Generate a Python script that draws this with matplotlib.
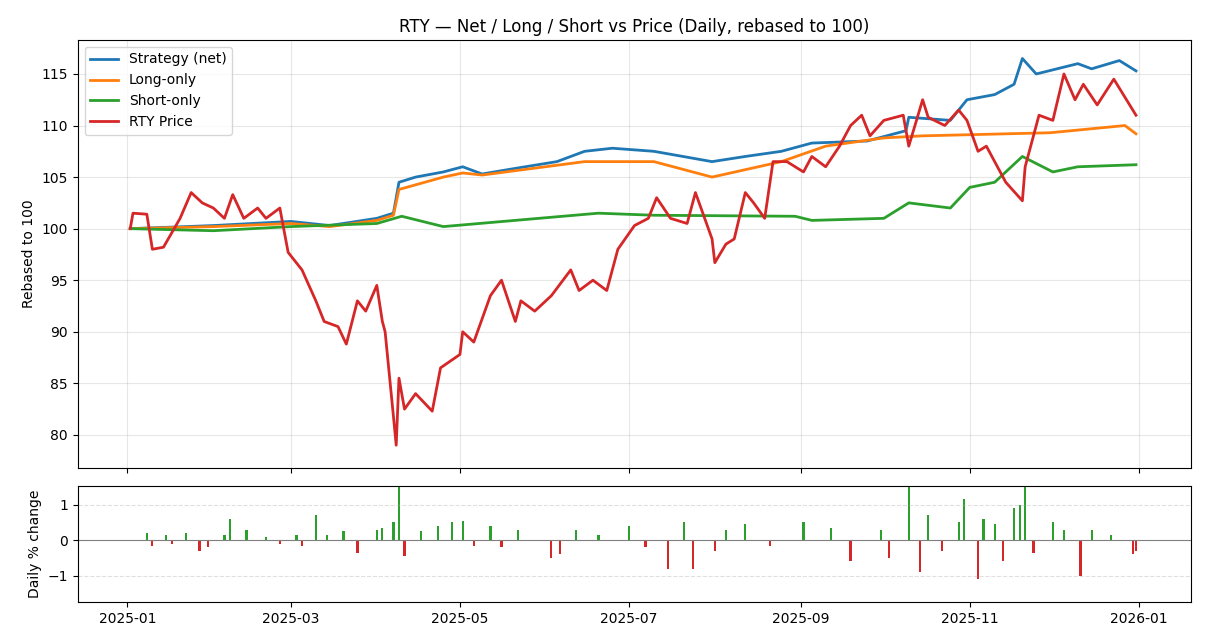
import pandas as pd
import numpy as np
import matplotlib.pyplot as plt

price_dates = ['2025-01-02','2025-01-03','2025-01-08','2025-01-10','2025-01-14','2025-01-20','2025-01-24','2025-01-28',
               '2025-02-01','2025-02-05','2025-02-08','2025-02-12','2025-02-17','2025-02-20','2025-02-25','2025-02-28',
               '2025-03-05','2025-03-10','2025-03-13','2025-03-18','2025-03-21','2025-03-25','2025-03-28','2025-04-01',
               '2025-04-03','2025-04-04','2025-04-07','2025-04-08','2025-04-09','2025-04-11','2025-04-15','2025-04-21',
               '2025-04-24','2025-05-01','2025-05-02','2025-05-06','2025-05-12','2025-05-16','2025-05-21','2025-05-23',
               '2025-05-28','2025-06-03','2025-06-10','2025-06-13','2025-06-18','2025-06-23','2025-06-27','2025-07-03',
               '2025-07-08','2025-07-11','2025-07-16','2025-07-22','2025-07-25','2025-07-31','2025-08-01','2025-08-05',
               '2025-08-08','2025-08-12','2025-08-15','2025-08-19','2025-08-22','2025-08-27','2025-09-02','2025-09-05',
               '2025-09-10','2025-09-15','2025-09-19','2025-09-23','2025-09-26','2025-10-01','2025-10-08','2025-10-10',
               '2025-10-15','2025-10-17','2025-10-23','2025-10-28','2025-10-31','2025-11-04','2025-11-07','2025-11-14',
               '2025-11-20','2025-11-21','2025-11-26','2025-12-01','2025-12-05','2025-12-09','2025-12-12','2025-12-17',
               '2025-12-23','2025-12-31']
price = [100, 101.5, 101.4, 98, 98.2, 101, 103.5, 102.5, 102, 101, 103.3, 101, 102, 101, 102, 97.7,
         96, 93, 91, 90.5, 88.8, 93, 92, 94.5, 91, 90, 81.8, 79, 85.5, 82.5, 84, 82.3,
         86.5, 87.8, 90, 89, 93.5, 95, 91, 93, 92, 93.5, 96, 94, 95, 94, 98, 100.3,
         101, 103, 101, 100.5, 103.5, 99, 96.7, 98.5, 99, 103.5, 102.5, 101, 106.5, 106.5, 105.5, 107,
         106, 108, 110, 111, 109, 110.5, 111, 108, 112.5, 110.8, 110, 111.5, 110.5, 107.5, 108, 104.5,
         102.7, 106, 111, 110.5, 115, 112.5, 114, 112, 114.5, 111]

net_dates = ['2025-01-02','2025-02-01','2025-03-01','2025-03-15','2025-04-01','2025-04-07','2025-04-09','2025-04-15',
             '2025-04-25','2025-05-02','2025-05-09','2025-05-20','2025-06-05','2025-06-15','2025-06-25','2025-07-10',
             '2025-07-31','2025-08-12','2025-08-25','2025-09-05','2025-09-25','2025-10-09','2025-10-10','2025-10-25',
             '2025-10-31','2025-11-10','2025-11-17','2025-11-20','2025-11-25','2025-12-10','2025-12-15','2025-12-25',
             '2025-12-31']
net = [100, 100.3, 100.7, 100.3, 101, 101.5, 104.5, 105, 105.5, 106, 105.3, 105.8, 106.5, 107.5, 107.8, 107.5,
       106.5, 107, 107.5, 108.3, 108.5, 109.5, 110.8, 110.5, 112.5, 113, 114, 116.5, 115, 116, 115.5, 116.3, 115.3]

long_dates = ['2025-01-02','2025-02-01','2025-03-01','2025-03-15','2025-04-01','2025-04-07','2025-04-09','2025-04-25',
              '2025-05-02','2025-05-09','2025-06-15','2025-07-10','2025-07-31','2025-08-25','2025-09-10','2025-10-01',
              '2025-10-15','2025-11-30','2025-12-27','2025-12-31']
long_only = [100, 100.2, 100.5, 100.2, 100.8, 101.3, 103.8, 105, 105.4, 105.2, 106.5, 106.5, 105, 106.5, 108, 108.8,
             109, 109.3, 110, 109.2]

short_dates = ['2025-01-02','2025-02-01','2025-03-01','2025-04-01','2025-04-10','2025-04-25','2025-06-20','2025-07-10',
               '2025-08-30','2025-09-05','2025-10-01','2025-10-10','2025-10-25','2025-11-01','2025-11-10','2025-11-20',
               '2025-12-01','2025-12-10','2025-12-31']
short_only = [100, 99.8, 100.2, 100.5, 101.2, 100.2, 101.5, 101.3, 101.2, 100.8, 101, 102.5, 102, 104, 104.5, 107,
              105.5, 106, 106.2]

bar_dates = ['2025-01-08','2025-01-10','2025-01-15','2025-01-17','2025-01-22','2025-01-27','2025-01-30','2025-02-05',
             '2025-02-07','2025-02-13','2025-02-20','2025-02-25','2025-03-03','2025-03-05','2025-03-10','2025-03-14',
             '2025-03-20','2025-03-25','2025-04-01','2025-04-03','2025-04-07','2025-04-09','2025-04-11','2025-04-17',
             '2025-04-23','2025-04-28','2025-05-02','2025-05-06','2025-05-12','2025-05-16','2025-05-22','2025-06-03',
             '2025-06-06','2025-06-12','2025-06-20','2025-07-01','2025-07-07','2025-07-15','2025-07-21','2025-07-24',
             '2025-08-01','2025-08-05','2025-08-12','2025-08-21','2025-09-02','2025-09-12','2025-09-19','2025-09-30',
             '2025-10-03','2025-10-10','2025-10-14','2025-10-17','2025-10-22','2025-10-28','2025-10-30','2025-11-04',
             '2025-11-06','2025-11-10','2025-11-13','2025-11-17','2025-11-19','2025-11-21','2025-11-24','2025-12-01',
             '2025-12-05','2025-12-11','2025-12-15','2025-12-22','2025-12-30','2025-12-31']
bar_vals = [0.2, -0.15, 0.15, -0.1, 0.2, -0.3, -0.2, 0.15, 0.6, 0.3, 0.1, -0.1, 0.15, -0.15, 0.7, 0.15,
            0.25, -0.35, 0.3, 0.35, 0.5, 1.6, -0.45, 0.25, 0.4, 0.5, 0.55, -0.15, 0.4, -0.2, 0.3, -0.5,
            -0.4, 0.3, 0.15, 0.4, -0.2, -0.8, 0.5, -0.8, -0.3, 0.3, 0.45, -0.15, 0.5, 0.35, -0.6, 0.3,
            -0.5, 1.5, -0.9, 0.7, -0.3, 0.5, 1.15, -1.1, 0.6, 0.45, -0.6, 0.9, 1.0, 1.5, -0.35, 0.5,
            0.3, -1.0, 0.3, 0.15, -0.4, -0.3]

fig = plt.figure(figsize=(12.12, 6.34), dpi=100)
ax = fig.add_axes([0.064, 0.262, 0.919, 0.675])
ax2 = fig.add_axes([0.064, 0.05, 0.919, 0.183], sharex=ax)

ax.plot(pd.to_datetime(net_dates), net, color='#1f77b4', lw=2, label='Strategy (net)')
ax.plot(pd.to_datetime(long_dates), long_only, color='#ff7f0e', lw=2, label='Long-only')
ax.plot(pd.to_datetime(short_dates), short_only, color='#2ca02c', lw=2, label='Short-only')
ax.plot(pd.to_datetime(price_dates), price, color='#d62728', lw=2, label='RTY Price')
ax.set_title('RTY — Net / Long / Short vs Price (Daily, rebased to 100)')
ax.set_ylabel('Rebased to 100')
ax.set_ylim(76.8, 118.3)
ax.grid(True, alpha=0.3)
ax.legend(loc='upper left')
plt.setp(ax.get_xticklabels(), visible=False)

bd = pd.to_datetime(bar_dates)
cols = ['#2ca02c' if v >= 0 else '#d62728' for v in bar_vals]
ax2.bar(bd, bar_vals, width=0.8, color=cols)
ax2.axhline(0, color='gray', lw=0.8)
ax2.set_ylim(-1.75, 1.52)
ax2.set_yticks([-1, 0, 1])
ax2.set_ylabel('Daily % change')
ax2.grid(True, axis='y', linestyle='--', alpha=0.4)
ax2.set_xlim(pd.Timestamp('2024-12-14'), pd.Timestamp('2026-01-20'))

plt.savefig('out.png', dpi=100)
